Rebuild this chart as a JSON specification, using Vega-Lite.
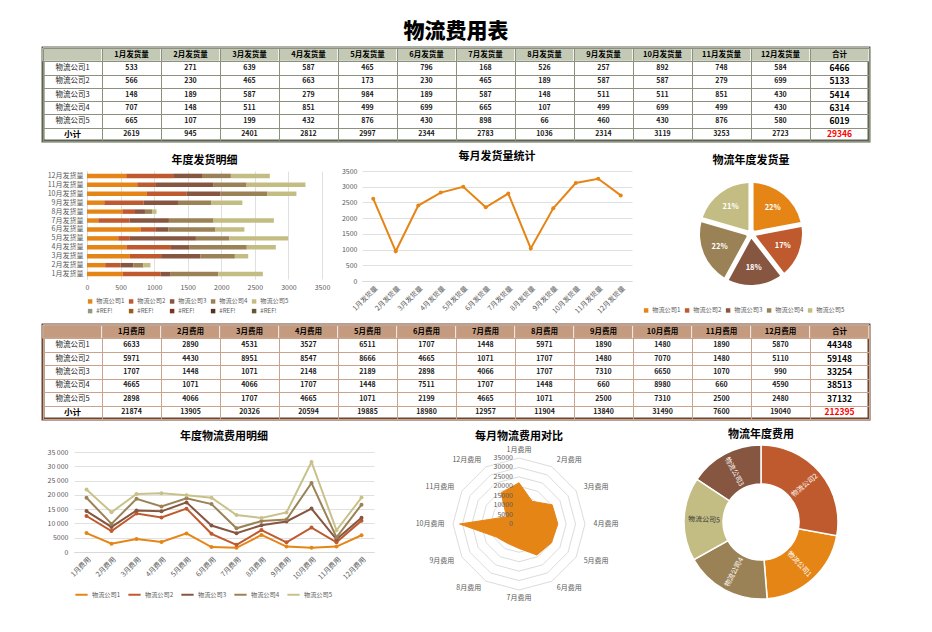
{
"$schema":"https://vega.github.io/schema/vega-lite/v6.json",
"padding":{"left":40,"top":21,"right":5,"bottom":5},
"background":"white",
"title":{"text":"物流费用表","fontSize":21,"fontWeight":900,"anchor":"middle","offset":4,"color":"#000000"},
"config":{
 "view":{"stroke":null},
 "font":"Noto Sans CJK SC",
 "axis":{"labelFontSize":7,"labelColor":"#595959","gridColor":"#e0e0e0","domainColor":"#d0d0d0","tickColor":"#d0d0d0","labelFont":"Noto Sans CJK SC"},
 "legend":{"labelFontSize":6.2,"labelColor":"#595959","labelFont":"Noto Sans CJK SC","labelOffset":3},
 "title":{"fontSize":11,"fontWeight":"bold","color":"#000000","font":"Noto Sans CJK SC","offset":6},
 "text":{"font":"Noto Sans CJK SC"}
},
"datasets":{
"ship":[
{"c":"物流公司1","mo":"1月发货量","v":533},{"c":"物流公司1","mo":"2月发货量","v":271},{"c":"物流公司1","mo":"3月发货量","v":639},{"c":"物流公司1","mo":"4月发货量","v":587},{"c":"物流公司1","mo":"5月发货量","v":465},{"c":"物流公司1","mo":"6月发货量","v":796},{"c":"物流公司1","mo":"7月发货量","v":168},{"c":"物流公司1","mo":"8月发货量","v":526},{"c":"物流公司1","mo":"9月发货量","v":257},{"c":"物流公司1","mo":"10月发货量","v":892},{"c":"物流公司1","mo":"11月发货量","v":748},{"c":"物流公司1","mo":"12月发货量","v":584},
{"c":"物流公司2","mo":"1月发货量","v":566},{"c":"物流公司2","mo":"2月发货量","v":230},{"c":"物流公司2","mo":"3月发货量","v":465},{"c":"物流公司2","mo":"4月发货量","v":663},{"c":"物流公司2","mo":"5月发货量","v":173},{"c":"物流公司2","mo":"6月发货量","v":230},{"c":"物流公司2","mo":"7月发货量","v":465},{"c":"物流公司2","mo":"8月发货量","v":189},{"c":"物流公司2","mo":"9月发货量","v":587},{"c":"物流公司2","mo":"10月发货量","v":587},{"c":"物流公司2","mo":"11月发货量","v":279},{"c":"物流公司2","mo":"12月发货量","v":699},
{"c":"物流公司3","mo":"1月发货量","v":148},{"c":"物流公司3","mo":"2月发货量","v":189},{"c":"物流公司3","mo":"3月发货量","v":587},{"c":"物流公司3","mo":"4月发货量","v":279},{"c":"物流公司3","mo":"5月发货量","v":984},{"c":"物流公司3","mo":"6月发货量","v":189},{"c":"物流公司3","mo":"7月发货量","v":587},{"c":"物流公司3","mo":"8月发货量","v":148},{"c":"物流公司3","mo":"9月发货量","v":511},{"c":"物流公司3","mo":"10月发货量","v":511},{"c":"物流公司3","mo":"11月发货量","v":851},{"c":"物流公司3","mo":"12月发货量","v":430},
{"c":"物流公司4","mo":"1月发货量","v":707},{"c":"物流公司4","mo":"2月发货量","v":148},{"c":"物流公司4","mo":"3月发货量","v":511},{"c":"物流公司4","mo":"4月发货量","v":851},{"c":"物流公司4","mo":"5月发货量","v":499},{"c":"物流公司4","mo":"6月发货量","v":699},{"c":"物流公司4","mo":"7月发货量","v":665},{"c":"物流公司4","mo":"8月发货量","v":107},{"c":"物流公司4","mo":"9月发货量","v":499},{"c":"物流公司4","mo":"10月发货量","v":699},{"c":"物流公司4","mo":"11月发货量","v":499},{"c":"物流公司4","mo":"12月发货量","v":430},
{"c":"物流公司5","mo":"1月发货量","v":665},{"c":"物流公司5","mo":"2月发货量","v":107},{"c":"物流公司5","mo":"3月发货量","v":199},{"c":"物流公司5","mo":"4月发货量","v":432},{"c":"物流公司5","mo":"5月发货量","v":876},{"c":"物流公司5","mo":"6月发货量","v":430},{"c":"物流公司5","mo":"7月发货量","v":898},{"c":"物流公司5","mo":"8月发货量","v":66},{"c":"物流公司5","mo":"9月发货量","v":460},{"c":"物流公司5","mo":"10月发货量","v":430},{"c":"物流公司5","mo":"11月发货量","v":876},{"c":"物流公司5","mo":"12月发货量","v":580}
],
"cost":[
{"c":"物流公司1","mo":"1月费用","m":1,"v":6633},{"c":"物流公司1","mo":"2月费用","m":2,"v":2890},{"c":"物流公司1","mo":"3月费用","m":3,"v":4531},{"c":"物流公司1","mo":"4月费用","m":4,"v":3527},{"c":"物流公司1","mo":"5月费用","m":5,"v":6511},{"c":"物流公司1","mo":"6月费用","m":6,"v":1707},{"c":"物流公司1","mo":"7月费用","m":7,"v":1448},{"c":"物流公司1","mo":"8月费用","m":8,"v":5971},{"c":"物流公司1","mo":"9月费用","m":9,"v":1890},{"c":"物流公司1","mo":"10月费用","m":10,"v":1480},{"c":"物流公司1","mo":"11月费用","m":11,"v":1890},{"c":"物流公司1","mo":"12月费用","m":12,"v":5870},
{"c":"物流公司2","mo":"1月费用","m":1,"v":5971},{"c":"物流公司2","mo":"2月费用","m":2,"v":4430},{"c":"物流公司2","mo":"3月费用","m":3,"v":8951},{"c":"物流公司2","mo":"4月费用","m":4,"v":8547},{"c":"物流公司2","mo":"5月费用","m":5,"v":8666},{"c":"物流公司2","mo":"6月费用","m":6,"v":4665},{"c":"物流公司2","mo":"7月费用","m":7,"v":1071},{"c":"物流公司2","mo":"8月费用","m":8,"v":1707},{"c":"物流公司2","mo":"9月费用","m":9,"v":1480},{"c":"物流公司2","mo":"10月费用","m":10,"v":7070},{"c":"物流公司2","mo":"11月费用","m":11,"v":1480},{"c":"物流公司2","mo":"12月费用","m":12,"v":5110},
{"c":"物流公司3","mo":"1月费用","m":1,"v":1707},{"c":"物流公司3","mo":"2月费用","m":2,"v":1448},{"c":"物流公司3","mo":"3月费用","m":3,"v":1071},{"c":"物流公司3","mo":"4月费用","m":4,"v":2148},{"c":"物流公司3","mo":"5月费用","m":5,"v":2189},{"c":"物流公司3","mo":"6月费用","m":6,"v":2898},{"c":"物流公司3","mo":"7月费用","m":7,"v":4066},{"c":"物流公司3","mo":"8月费用","m":8,"v":1707},{"c":"物流公司3","mo":"9月费用","m":9,"v":7310},{"c":"物流公司3","mo":"10月费用","m":10,"v":6650},{"c":"物流公司3","mo":"11月费用","m":11,"v":1070},{"c":"物流公司3","mo":"12月费用","m":12,"v":990},
{"c":"物流公司4","mo":"1月费用","m":1,"v":4665},{"c":"物流公司4","mo":"2月费用","m":2,"v":1071},{"c":"物流公司4","mo":"3月费用","m":3,"v":4066},{"c":"物流公司4","mo":"4月费用","m":4,"v":1707},{"c":"物流公司4","mo":"5月费用","m":5,"v":1448},{"c":"物流公司4","mo":"6月费用","m":6,"v":7511},{"c":"物流公司4","mo":"7月费用","m":7,"v":1707},{"c":"物流公司4","mo":"8月费用","m":8,"v":1448},{"c":"物流公司4","mo":"9月费用","m":9,"v":660},{"c":"物流公司4","mo":"10月费用","m":10,"v":8980},{"c":"物流公司4","mo":"11月费用","m":11,"v":660},{"c":"物流公司4","mo":"12月费用","m":12,"v":4590},
{"c":"物流公司5","mo":"1月费用","m":1,"v":2898},{"c":"物流公司5","mo":"2月费用","m":2,"v":4066},{"c":"物流公司5","mo":"3月费用","m":3,"v":1707},{"c":"物流公司5","mo":"4月费用","m":4,"v":4665},{"c":"物流公司5","mo":"5月费用","m":5,"v":1071},{"c":"物流公司5","mo":"6月费用","m":6,"v":2199},{"c":"物流公司5","mo":"7月费用","m":7,"v":4665},{"c":"物流公司5","mo":"8月费用","m":8,"v":1071},{"c":"物流公司5","mo":"9月费用","m":9,"v":2500},{"c":"物流公司5","mo":"10月费用","m":10,"v":7310},{"c":"物流公司5","mo":"11月费用","m":11,"v":2500},{"c":"物流公司5","mo":"12月费用","m":12,"v":2480}
],
"hdr1":[{"h":" "},{"h":"1月发货量"},{"h":"2月发货量"},{"h":"3月发货量"},{"h":"4月发货量"},{"h":"5月发货量"},{"h":"6月发货量"},{"h":"7月发货量"},{"h":"8月发货量"},{"h":"9月发货量"},{"h":"10月发货量"},{"h":"11月发货量"},{"h":"12月发货量"},{"h":"合计"}],
"hdr2":[{"h":" "},{"h":"1月费用"},{"h":"2月费用"},{"h":"3月费用"},{"h":"4月费用"},{"h":"5月费用"},{"h":"6月费用"},{"h":"7月费用"},{"h":"8月费用"},{"h":"9月费用"},{"h":"10月费用"},{"h":"11月费用"},{"h":"12月费用"},{"h":"合计"}],
"rows":[{"r":"物流公司1"},{"r":"物流公司2"},{"r":"物流公司3"},{"r":"物流公司4"},{"r":"物流公司5"}],
"sub":[{"r":"小计"}],
"blank":[{"z":0}]
},
"resolve":{"scale":{"color":"independent","x":"independent","y":"independent","theta":"independent"},"legend":{"color":"independent"}},
"columns":1,
"align":"none",
"spacing":8,
"concat":[
{
 "width":826,"height":93,
 "view":{"stroke":"#5e6452","strokeWidth":3},
 "layer":[
  {"data":{"name":"hdr1"},"mark":{"type":"rect","fill":"#c3c9b5","stroke":"#ffffff","strokeWidth":1},
   "encoding":{"x":{"field":"h","type":"nominal","scale":{"type":"band","domain":[" ","1月发货量","2月发货量","3月发货量","4月发货量","5月发货量","6月发货量","7月发货量","8月发货量","9月发货量","10月发货量","11月发货量","12月发货量","合计"],"paddingInner":0,"paddingOuter":0},"axis":{"orient":"top","grid":true,"tickBand":"extent","labels":false,"ticks":false,"domain":false,"title":null,"gridColor":"#8c907e","minExtent":0,"maxExtent":0}},
   "y":{"datum":"hdr","type":"nominal","scale":{"type":"band","domain":["hdr","物流公司1","物流公司2","物流公司3","物流公司4","物流公司5","小计"],"paddingInner":0,"paddingOuter":0},"axis":{"orient":"left","grid":true,"tickBand":"extent","labels":false,"ticks":false,"domain":false,"title":null,"gridColor":"#8c907e","minExtent":0,"maxExtent":0}}}},
  {"data":{"name":"hdr1"},"mark":{"type":"text","fontSize":7.5,"fontWeight":"bold","color":"#000000"},
   "encoding":{"x":{"field":"h","type":"nominal","scale":{"type":"band","domain":[" ","1月发货量","2月发货量","3月发货量","4月发货量","5月发货量","6月发货量","7月发货量","8月发货量","9月发货量","10月发货量","11月发货量","12月发货量","合计"],"paddingInner":0,"paddingOuter":0}},
   "y":{"datum":"hdr","type":"nominal","scale":{"type":"band","domain":["hdr","物流公司1","物流公司2","物流公司3","物流公司4","物流公司5","小计"],"paddingInner":0,"paddingOuter":0}},"text":{"field":"h"}}},
  {"data":{"name":"ship"},"mark":{"type":"text","fontSize":7,"fontWeight":"bold","color":"#1a1a1a"},
   "encoding":{"x":{"field":"mo","type":"nominal","scale":{"type":"band","domain":[" ","1月发货量","2月发货量","3月发货量","4月发货量","5月发货量","6月发货量","7月发货量","8月发货量","9月发货量","10月发货量","11月发货量","12月发货量","合计"],"paddingInner":0,"paddingOuter":0}},
   "y":{"field":"c","type":"nominal","scale":{"type":"band","domain":["hdr","物流公司1","物流公司2","物流公司3","物流公司4","物流公司5","小计"],"paddingInner":0,"paddingOuter":0}},"text":{"field":"v","type":"quantitative","format":"d"}}},
  {"data":{"name":"rows"},"mark":{"type":"text","fontSize":7.5,"color":"#222222"},
   "encoding":{"x":{"datum":" ","type":"nominal","scale":{"type":"band","domain":[" ","1月发货量","2月发货量","3月发货量","4月发货量","5月发货量","6月发货量","7月发货量","8月发货量","9月发货量","10月发货量","11月发货量","12月发货量","合计"],"paddingInner":0,"paddingOuter":0}},
   "y":{"field":"r","type":"nominal","scale":{"type":"band","domain":["hdr","物流公司1","物流公司2","物流公司3","物流公司4","物流公司5","小计"],"paddingInner":0,"paddingOuter":0}},"text":{"field":"r"}}},
  {"data":{"name":"sub"},"mark":{"type":"text","fontSize":8.5,"fontWeight":"bold","color":"#000000"},
   "encoding":{"x":{"datum":" ","type":"nominal","scale":{"type":"band","domain":[" ","1月发货量","2月发货量","3月发货量","4月发货量","5月发货量","6月发货量","7月发货量","8月发货量","9月发货量","10月发货量","11月发货量","12月发货量","合计"],"paddingInner":0,"paddingOuter":0}},
   "y":{"field":"r","type":"nominal","scale":{"type":"band","domain":["hdr","物流公司1","物流公司2","物流公司3","物流公司4","物流公司5","小计"],"paddingInner":0,"paddingOuter":0}},"text":{"field":"r"}}},
  {"data":{"name":"ship"},"transform":[{"aggregate":[{"op":"sum","field":"v","as":"s"}],"groupby":["c"]}],"mark":{"type":"text","fontSize":8.5,"fontWeight":"bold","color":"#000000"},
   "encoding":{"x":{"datum":"合计","type":"nominal","scale":{"type":"band","domain":[" ","1月发货量","2月发货量","3月发货量","4月发货量","5月发货量","6月发货量","7月发货量","8月发货量","9月发货量","10月发货量","11月发货量","12月发货量","合计"],"paddingInner":0,"paddingOuter":0}},
   "y":{"field":"c","type":"nominal","scale":{"type":"band","domain":["hdr","物流公司1","物流公司2","物流公司3","物流公司4","物流公司5","小计"],"paddingInner":0,"paddingOuter":0}},"text":{"field":"s","type":"quantitative","format":"d"}}},
  {"data":{"name":"ship"},"transform":[{"aggregate":[{"op":"sum","field":"v","as":"s"}],"groupby":["mo"]}],"mark":{"type":"text","fontSize":7,"fontWeight":"bold","color":"#1a1a1a"},
   "encoding":{"x":{"field":"mo","type":"nominal","scale":{"type":"band","domain":[" ","1月发货量","2月发货量","3月发货量","4月发货量","5月发货量","6月发货量","7月发货量","8月发货量","9月发货量","10月发货量","11月发货量","12月发货量","合计"],"paddingInner":0,"paddingOuter":0}},
   "y":{"datum":"小计","type":"nominal","scale":{"type":"band","domain":["hdr","物流公司1","物流公司2","物流公司3","物流公司4","物流公司5","小计"],"paddingInner":0,"paddingOuter":0}},"text":{"field":"s","type":"quantitative","format":"d"}}},
  {"data":{"name":"ship"},"transform":[{"aggregate":[{"op":"sum","field":"v","as":"s"}]}],"mark":{"type":"text","fontSize":8.5,"fontWeight":"bold","color":"#ff0000"},
   "encoding":{"x":{"datum":"合计","type":"nominal","scale":{"type":"band","domain":[" ","1月发货量","2月发货量","3月发货量","4月发货量","5月发货量","6月发货量","7月发货量","8月发货量","9月发货量","10月发货量","11月发货量","12月发货量","合计"],"paddingInner":0,"paddingOuter":0}},
   "y":{"datum":"小计","type":"nominal","scale":{"type":"band","domain":["hdr","物流公司1","物流公司2","物流公司3","物流公司4","物流公司5","小计"],"paddingInner":0,"paddingOuter":0}},"text":{"field":"s","type":"quantitative","format":"d"}}}
 ]
},
{
 "spacing":11,
 "resolve":{"scale":{"color":"independent","x":"independent","y":"independent","theta":"independent"},"legend":{"color":"independent"}},
 "hconcat":[
  {
   "spacing":0,
   "resolve":{"scale":{"color":"independent","x":"independent","y":"independent"},"legend":{"color":"independent"}},
   "hconcat":[
    {"width":2,"height":10,"data":{"name":"blank"},"mark":{"type":"point","opacity":0}},
    {
     "title":{"text":"年度发货明细","offset":5},
     "width":235,"height":108,
     "data":{"name":"ship"},
     "mark":{"type":"bar"},
     "encoding":{
      "y":{"field":"mo","type":"nominal","scale":{"domain":["12月发货量","11月发货量","10月发货量","9月发货量","8月发货量","7月发货量","6月发货量","5月发货量","4月发货量","3月发货量","2月发货量","1月发货量"],"paddingInner":0.5,"paddingOuter":0.3},"axis":{"title":null,"ticks":false,"domainColor":"#d9d9d9","labelPadding":4}},
      "x":{"field":"v","type":"quantitative","stack":"zero","scale":{"domain":[0,3500],"nice":false},"axis":{"title":null,"values":[0,500,1000,1500,2000,2500,3000,3500],"format":"d","ticks":false,"domain":false,"grid":true,"labelFlush":false,"labelPadding":4}},
      "color":{"field":"c","type":"nominal","scale":{"domain":["物流公司1","物流公司2","物流公司3","物流公司4","物流公司5","r1","r2","r3","r4","r5"],"range":["#E58516","#BF5A2E","#865640","#9B8256","#C4BD83","#8F9A80","#9E5A1C","#7A3420","#503424","#67553A"]},
       "legend":{"orient":"bottom","direction":"horizontal","columns":5,"title":null,"symbolType":"square","symbolSize":20,"labelExpr":"length(datum.label) < 3 ? '#REF!' : datum.label","columnPadding":3,"rowPadding":3,"offset":8,"padding":0}},
      "order":{"field":"c","sort":"ascending"}
     }
    }
   ]
  },
  {
   "title":{"text":"每月发货量统计","offset":5},
   "width":270,"height":110,
   "data":{"name":"ship"},
   "mark":{"type":"line","color":"#E58516","strokeWidth":2,"point":{"filled":true,"size":16,"color":"#E58516"}},
   "encoding":{
    "x":{"field":"mo","type":"nominal","scale":{"domain":["1月发货量","2月发货量","3月发货量","4月发货量","5月发货量","6月发货量","7月发货量","8月发货量","9月发货量","10月发货量","11月发货量","12月发货量"],"padding":0.5},"axis":{"title":null,"labelAngle":-45,"ticks":false,"domainColor":"#d9d9d9","labelPadding":3}},
    "y":{"aggregate":"sum","field":"v","type":"quantitative","scale":{"domain":[0,3500],"nice":false},"axis":{"title":null,"values":[0,500,1000,1500,2000,2500,3000,3500],"format":"d","domain":false,"ticks":false,"labelPadding":5}}
   }
  },
  {
   "title":{"text":"物流年度发货量","offset":5},
   "width":216,"height":126,
   "data":{"name":"ship"},
   "transform":[
    {"aggregate":[{"op":"sum","field":"v","as":"v"}],"groupby":["c"]},
    {"joinaggregate":[{"op":"sum","field":"v","as":"tot"}]},
    {"window":[{"op":"sum","field":"v","as":"cum"}],"sort":[{"field":"c","order":"ascending"}]},
    {"calculate":"datum.cum - datum.v/2","as":"mid"},
    {"calculate":"datum.v/datum.tot","as":"pct"}
   ],
   "layer":[
    {"mark":{"type":"arc","outerRadius":51,"innerRadius":5,"padAngle":0.1},
     "encoding":{"theta":{"field":"v","type":"quantitative","stack":true},
      "color":{"field":"c","type":"nominal","scale":{"domain":["物流公司1","物流公司2","物流公司3","物流公司4","物流公司5"],"range":["#E58516","#BF5A2E","#865640","#9B8256","#C4BD83"]},
       "legend":{"orient":"bottom","direction":"horizontal","title":null,"symbolType":"square","symbolSize":20,"columnPadding":3,"offset":10,"padding":0}},
      "order":{"field":"c","sort":"ascending"}}},
    {"mark":{"type":"text","radius":34,"color":"#ffffff","fontWeight":"bold","fontSize":7.5},
     "encoding":{"theta":{"field":"mid","type":"quantitative"},"text":{"field":"pct","type":"quantitative","format":".0%"}}}
   ]
  }
 ]
},
{
 "width":826,"height":94,
 "view":{"stroke":"#6a4634","strokeWidth":3},
 "layer":[
  {"data":{"name":"hdr2"},"mark":{"type":"rect","fill":"#c49b7f","stroke":"#ffffff","strokeWidth":1},
   "encoding":{"x":{"field":"h","type":"nominal","scale":{"type":"band","domain":[" ","1月费用","2月费用","3月费用","4月费用","5月费用","6月费用","7月费用","8月费用","9月费用","10月费用","11月费用","12月费用","合计"],"paddingInner":0,"paddingOuter":0},"axis":{"orient":"top","grid":true,"tickBand":"extent","labels":false,"ticks":false,"domain":false,"title":null,"gridColor":"#c9a38b","minExtent":0,"maxExtent":0}},
   "y":{"datum":"hdr","type":"nominal","scale":{"type":"band","domain":["hdr","物流公司1","物流公司2","物流公司3","物流公司4","物流公司5","小计"],"paddingInner":0,"paddingOuter":0},"axis":{"orient":"left","grid":true,"tickBand":"extent","labels":false,"ticks":false,"domain":false,"title":null,"gridColor":"#c9a38b","minExtent":0,"maxExtent":0}}}},
  {"data":{"name":"hdr2"},"mark":{"type":"text","fontSize":7.5,"fontWeight":"bold","color":"#000000"},
   "encoding":{"x":{"field":"h","type":"nominal","scale":{"type":"band","domain":[" ","1月费用","2月费用","3月费用","4月费用","5月费用","6月费用","7月费用","8月费用","9月费用","10月费用","11月费用","12月费用","合计"],"paddingInner":0,"paddingOuter":0}},
   "y":{"datum":"hdr","type":"nominal","scale":{"type":"band","domain":["hdr","物流公司1","物流公司2","物流公司3","物流公司4","物流公司5","小计"],"paddingInner":0,"paddingOuter":0}},"text":{"field":"h"}}},
  {"data":{"name":"cost"},"mark":{"type":"text","fontSize":7,"fontWeight":"bold","color":"#1a1a1a"},
   "encoding":{"x":{"field":"mo","type":"nominal","scale":{"type":"band","domain":[" ","1月费用","2月费用","3月费用","4月费用","5月费用","6月费用","7月费用","8月费用","9月费用","10月费用","11月费用","12月费用","合计"],"paddingInner":0,"paddingOuter":0}},
   "y":{"field":"c","type":"nominal","scale":{"type":"band","domain":["hdr","物流公司1","物流公司2","物流公司3","物流公司4","物流公司5","小计"],"paddingInner":0,"paddingOuter":0}},"text":{"field":"v","type":"quantitative","format":"d"}}},
  {"data":{"name":"rows"},"mark":{"type":"text","fontSize":7.5,"color":"#222222"},
   "encoding":{"x":{"datum":" ","type":"nominal","scale":{"type":"band","domain":[" ","1月费用","2月费用","3月费用","4月费用","5月费用","6月费用","7月费用","8月费用","9月费用","10月费用","11月费用","12月费用","合计"],"paddingInner":0,"paddingOuter":0}},
   "y":{"field":"r","type":"nominal","scale":{"type":"band","domain":["hdr","物流公司1","物流公司2","物流公司3","物流公司4","物流公司5","小计"],"paddingInner":0,"paddingOuter":0}},"text":{"field":"r"}}},
  {"data":{"name":"sub"},"mark":{"type":"text","fontSize":8.5,"fontWeight":"bold","color":"#000000"},
   "encoding":{"x":{"datum":" ","type":"nominal","scale":{"type":"band","domain":[" ","1月费用","2月费用","3月费用","4月费用","5月费用","6月费用","7月费用","8月费用","9月费用","10月费用","11月费用","12月费用","合计"],"paddingInner":0,"paddingOuter":0}},
   "y":{"field":"r","type":"nominal","scale":{"type":"band","domain":["hdr","物流公司1","物流公司2","物流公司3","物流公司4","物流公司5","小计"],"paddingInner":0,"paddingOuter":0}},"text":{"field":"r"}}},
  {"data":{"name":"cost"},"transform":[{"aggregate":[{"op":"sum","field":"v","as":"s"}],"groupby":["c"]}],"mark":{"type":"text","fontSize":8.5,"fontWeight":"bold","color":"#000000"},
   "encoding":{"x":{"datum":"合计","type":"nominal","scale":{"type":"band","domain":[" ","1月费用","2月费用","3月费用","4月费用","5月费用","6月费用","7月费用","8月费用","9月费用","10月费用","11月费用","12月费用","合计"],"paddingInner":0,"paddingOuter":0}},
   "y":{"field":"c","type":"nominal","scale":{"type":"band","domain":["hdr","物流公司1","物流公司2","物流公司3","物流公司4","物流公司5","小计"],"paddingInner":0,"paddingOuter":0}},"text":{"field":"s","type":"quantitative","format":"d"}}},
  {"data":{"name":"cost"},"transform":[{"aggregate":[{"op":"sum","field":"v","as":"s"}],"groupby":["mo"]}],"mark":{"type":"text","fontSize":7,"fontWeight":"bold","color":"#1a1a1a"},
   "encoding":{"x":{"field":"mo","type":"nominal","scale":{"type":"band","domain":[" ","1月费用","2月费用","3月费用","4月费用","5月费用","6月费用","7月费用","8月费用","9月费用","10月费用","11月费用","12月费用","合计"],"paddingInner":0,"paddingOuter":0}},
   "y":{"datum":"小计","type":"nominal","scale":{"type":"band","domain":["hdr","物流公司1","物流公司2","物流公司3","物流公司4","物流公司5","小计"],"paddingInner":0,"paddingOuter":0}},"text":{"field":"s","type":"quantitative","format":"d"}}},
  {"data":{"name":"cost"},"transform":[{"aggregate":[{"op":"sum","field":"v","as":"s"}]}],"mark":{"type":"text","fontSize":8.5,"fontWeight":"bold","color":"#ff0000"},
   "encoding":{"x":{"datum":"合计","type":"nominal","scale":{"type":"band","domain":[" ","1月费用","2月费用","3月费用","4月费用","5月费用","6月费用","7月费用","8月费用","9月费用","10月费用","11月费用","12月费用","合计"],"paddingInner":0,"paddingOuter":0}},
   "y":{"datum":"小计","type":"nominal","scale":{"type":"band","domain":["hdr","物流公司1","物流公司2","物流公司3","物流公司4","物流公司5","小计"],"paddingInner":0,"paddingOuter":0}},"text":{"field":"s","type":"quantitative","format":"d"}}}
 ]
},
{
 "spacing":8,
 "resolve":{"scale":{"color":"independent","x":"independent","y":"independent","theta":"independent"},"legend":{"color":"independent"}},
 "hconcat":[
  {
   "spacing":0,
   "resolve":{"scale":{"color":"independent","x":"independent","y":"independent"},"legend":{"color":"independent"}},
   "hconcat":[
    {"width":1,"height":10,"data":{"name":"blank"},"mark":{"type":"point","opacity":0}},
    {
     "title":{"text":"年度物流费用明细","offset":2},
     "width":300,"height":108,
     "data":{"name":"cost"},
     "transform":[{"window":[{"op":"sum","field":"v","as":"cum"}],"groupby":["m"],"sort":[{"field":"c","order":"ascending"}]}],
     "mark":{"type":"line","strokeWidth":2,"point":{"filled":true,"size":16}},
     "encoding":{
      "x":{"field":"mo","type":"nominal","scale":{"domain":["1月费用","2月费用","3月费用","4月费用","5月费用","6月费用","7月费用","8月费用","9月费用","10月费用","11月费用","12月费用"],"padding":0.5},"axis":{"title":null,"labelAngle":-45,"ticks":false,"domainColor":"#d9d9d9","labelPadding":3}},
      "y":{"field":"cum","type":"quantitative","scale":{"domain":[0,37800],"nice":false},"axis":{"title":null,"values":[0,5000,10000,15000,20000,25000,30000,35000],"domain":false,"ticks":false,"labelPadding":6,"labelExpr":"datum.value >= 10000 ? replace(format(datum.value, ','), ',', ' ') : format(datum.value, 'd')"}},
      "color":{"field":"c","type":"nominal","scale":{"domain":["物流公司1","物流公司2","物流公司3","物流公司4","物流公司5"],"range":["#E58516","#BF5A2E","#865640","#9B8256","#C9C18A"]},
       "legend":{"orient":"bottom","direction":"horizontal","title":null,"symbolType":"stroke","symbolStrokeWidth":2,"symbolSize":150,"columnPadding":3,"offset":6,"padding":0}}
     }
    }
   ]
  },
  {
   "title":{"text":"每月物流费用对比","offset":2},
   "width":274,"height":160,
   "data":{"name":"cost"},
   "transform":[
    {"aggregate":[{"op":"sum","field":"v","as":"t"}],"groupby":["m","mo"]},
    {"calculate":"(datum.m-1)*PI/6","as":"a"}
   ],
   "layer":[
    {"transform":[{"calculate":"[0,5000,10000,15000,20000,25000,30000,35000]","as":"ring"},{"flatten":["ring"]},{"calculate":"datum.ring*sin(datum.a)","as":"px"},{"calculate":"datum.ring*cos(datum.a)","as":"py"}],
     "mark":{"type":"line","interpolate":"linear-closed","stroke":"#dcdcdc","strokeWidth":1},
     "encoding":{"x":{"field":"px","type":"quantitative","scale":{"domain":[-72652,72652],"nice":false,"zero":false},"axis":null},
      "y":{"field":"py","type":"quantitative","scale":{"domain":[-42424,42424],"nice":false,"zero":false},"axis":null},
      "detail":{"field":"ring","type":"nominal"},"order":{"field":"m","type":"quantitative"}}},
    {"transform":[{"calculate":"datum.t*sin(datum.a)","as":"px"},{"calculate":"datum.t*cos(datum.a)","as":"py"}],
     "mark":{"type":"line","interpolate":"linear-closed","stroke":"#E58516","fill":"#E58516","filled":true,"strokeWidth":1},
     "encoding":{"x":{"field":"px","type":"quantitative","scale":{"domain":[-72652,72652],"nice":false,"zero":false},"axis":null},
      "y":{"field":"py","type":"quantitative","scale":{"domain":[-42424,42424],"nice":false,"zero":false},"axis":null},
      "order":{"field":"m","type":"quantitative"}}},
    {"transform":[{"filter":"datum.m == 1"},{"calculate":"[0,5000,10000,15000,20000,25000,30000,35000]","as":"ring"},{"flatten":["ring"]},{"calculate":"0","as":"px"}],
     "mark":{"type":"text","align":"right","baseline":"middle","dx":-6,"fontSize":7,"color":"#595959"},
     "encoding":{"x":{"field":"px","type":"quantitative","scale":{"domain":[-72652,72652],"nice":false,"zero":false},"axis":null},
      "y":{"field":"ring","type":"quantitative","scale":{"domain":[-42424,42424],"nice":false,"zero":false},"axis":null},
      "text":{"field":"ring","type":"quantitative","format":"d"}}},
    {"transform":[{"filter":"datum.m == 1 || datum.m == 7"},{"calculate":"39000*sin(datum.a)","as":"px"},{"calculate":"39000*cos(datum.a)","as":"py"}],
     "mark":{"type":"text","align":"center","baseline":"middle","fontSize":7,"color":"#595959"},
     "encoding":{"x":{"field":"px","type":"quantitative","scale":{"domain":[-72652,72652],"nice":false,"zero":false},"axis":null},
      "y":{"field":"py","type":"quantitative","scale":{"domain":[-42424,42424],"nice":false,"zero":false},"axis":null},
      "text":{"field":"mo"}}},
    {"transform":[{"filter":"datum.m >= 2 && datum.m <= 6"},{"calculate":"39000*sin(datum.a)","as":"px"},{"calculate":"39000*cos(datum.a)","as":"py"}],
     "mark":{"type":"text","align":"left","baseline":"middle","dx":1,"fontSize":7,"color":"#595959"},
     "encoding":{"x":{"field":"px","type":"quantitative","scale":{"domain":[-72652,72652],"nice":false,"zero":false},"axis":null},
      "y":{"field":"py","type":"quantitative","scale":{"domain":[-42424,42424],"nice":false,"zero":false},"axis":null},
      "text":{"field":"mo"}}},
    {"transform":[{"filter":"datum.m >= 8"},{"calculate":"39000*sin(datum.a)","as":"px"},{"calculate":"39000*cos(datum.a)","as":"py"}],
     "mark":{"type":"text","align":"right","baseline":"middle","dx":-1,"fontSize":7,"color":"#595959"},
     "encoding":{"x":{"field":"px","type":"quantitative","scale":{"domain":[-72652,72652],"nice":false,"zero":false},"axis":null},
      "y":{"field":"py","type":"quantitative","scale":{"domain":[-42424,42424],"nice":false,"zero":false},"axis":null},
      "text":{"field":"mo"}}}
   ]
  },
  {
   "title":{"text":"物流年度费用","offset":2},
   "width":194,"height":156,
   "data":{"name":"cost"},
   "transform":[
    {"aggregate":[{"op":"sum","field":"v","as":"v"}],"groupby":["c"]},
    {"joinaggregate":[{"op":"sum","field":"v","as":"tot"}]},
    {"window":[{"op":"sum","field":"v","as":"cum"}],"sort":[{"field":"v","order":"descending"}]},
    {"calculate":"datum.cum - datum.v/2","as":"mid"},
    {"calculate":"datum.mid/datum.tot*360","as":"deg"},
    {"calculate":"datum.deg < 180 ? datum.deg - 90 : datum.deg - 270","as":"ang"}
   ],
   "layer":[
    {"mark":{"type":"arc","innerRadius":38,"outerRadius":77,"stroke":"#ffffff","strokeWidth":1.5},
     "encoding":{"theta":{"field":"v","type":"quantitative","stack":true},
      "color":{"field":"c","type":"nominal","scale":{"domain":["物流公司1","物流公司2","物流公司3","物流公司4","物流公司5"],"range":["#E58516","#BF5A2E","#865640","#9B8256","#C4BD83"]},"legend":null},
      "order":{"field":"v","type":"quantitative","sort":"descending"}}},
    {"mark":{"type":"text","radius":57,"fontSize":7,"baseline":"middle","align":"center"},
     "encoding":{"theta":{"field":"mid","type":"quantitative"},"text":{"field":"c"},
      "angle":{"field":"ang","type":"quantitative","scale":null},
      "color":{"condition":{"test":"datum.c == '物流公司5'","value":"#333333"},"value":"#ffffff"}}}
   ]
  }
 ]
}
]
}
